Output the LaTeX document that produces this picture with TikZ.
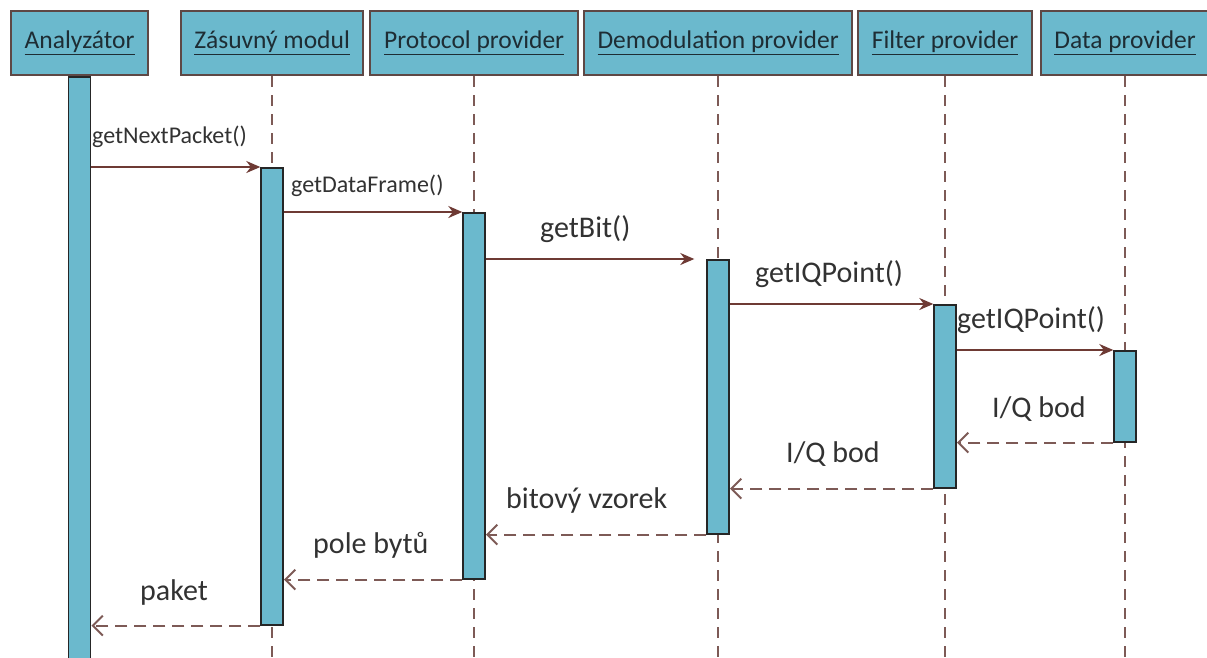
\documentclass[tikz,border=0pt]{standalone}
\usepackage{fontspec}
\setmainfont{Carlito}
\usetikzlibrary{arrows.meta}
\definecolor{boxfill}{RGB}{107,185,205}
\definecolor{boxline}{RGB}{94,72,69}
\definecolor{msgline}{RGB}{110,58,52}
\definecolor{lifeline}{RGB}{125,90,86}
\definecolor{labeltext}{RGB}{50,50,50}
\definecolor{headtext}{RGB}{30,45,52}
\begin{document}
\begin{tikzpicture}[x=1pt,y=-1pt,
  head/.style={draw=boxline, line width=2.2pt, fill=boxfill, anchor=north west,
    minimum height=64pt, inner sep=0pt, text=headtext,
    font=\fontsize{25.5}{30}\selectfont},
  bar/.style={draw=black!85, line width=1.6pt, fill=boxfill, anchor=north,
    minimum width=22pt, inner sep=0pt},
  life/.style={draw=lifeline, line width=2pt, dash pattern=on 11pt off 8pt},
  call/.style={draw=msgline, line width=2pt, -{Stealth[length=14pt,width=12pt]}},
  reply/.style={draw=lifeline, line width=2pt, dash pattern=on 12pt off 7pt,
    -{Straight Barb[length=10pt,width=20pt]}},
  small/.style={font=\fontsize{24}{28}\selectfont, text=labeltext, anchor=base west, inner sep=0pt},
  big/.style={font=\fontsize{30}{36}\selectfont, text=labeltext, anchor=base west, inner sep=0pt}]
\useasboundingbox (0,0) rectangle (1207,657);

% participants
\node[head, minimum width=137pt] (h1) at (10,10) {\underline{Analyzátor}};
\node[head, minimum width=182pt] (h2) at (180,10) {\underline{Zásuvný modul}};
\node[head, minimum width=208pt] (h3) at (369,10) {\underline{Protocol provider}};
\node[head, minimum width=268pt] (h4) at (583,10) {\underline{Demodulation provider}};
\node[head, minimum width=174pt] (h5) at (857,10) {\underline{Filter provider}};
\node[head, minimum width=168pt] (h6) at (1040,10) {\underline{Data provider}};

% lifelines
\foreach \i in {2,...,6}{
  \coordinate (e\i) at (h\i.south |- 0,657);
  \draw[life] (h\i.south) -- (e\i);
}

% activation bars
\node[bar, minimum height=600pt] (b1) at (h1.south) {};
\node[bar, minimum height=457pt] (b2) at (h2.south |- 0,167) {};
\node[bar, minimum height=366pt] (b3) at (h3.south |- 0,212) {};
\node[bar, minimum height=274pt] (b4) at (h4.south |- 0,259) {};
\node[bar, minimum height=183pt] (b5) at (h5.south |- 0,304) {};
\node[bar, minimum height=91pt]  (b6) at (h6.south |- 0,350) {};

% calls
\draw[call] (b1.east |- b2.north) -- (b2.north west);
\draw[call] (b2.east |- b3.north) -- (b3.north west);
\draw[call] (b3.east |- b4.north) -- ([xshift=-12pt]b4.north west);
\draw[call] (b4.east |- b5.north) -- (b5.north west);
\draw[call] (b5.east |- b6.north) -- (b6.north west);

% replies
\draw[reply] (b6.south west) -- (b5.east |- b6.south);
\draw[reply] (b5.south west) -- (b4.east |- b5.south);
\draw[reply] (b4.south west) -- (b3.east |- b4.south);
\draw[reply] (b3.south west) -- (b2.east |- b3.south);
\draw[reply] (b2.south west) -- (b1.east |- b2.south);

% message labels
\node[small] (l1) at (92,143) {getNextPacket()};
\node[small] (l2) at (291,192) {getDataFrame()};
\node[big] (l3) at (540,237) {getBit()};
\node[big] (l4) at (755,282) {getIQPoint()};
\node[big] (l5) at (957,328) {getIQPoint()};
\node[big] (l6) at (992,417) {I/Q bod};
\node[big] (l7) at (786,462) {I/Q bod};
\node[big] (l8) at (506,508) {bitový vzorek};
\node[big] (l9) at (313,553) {pole bytů};
\node[big] (l10) at (140,600) {paket};
\end{tikzpicture}
\end{document}
